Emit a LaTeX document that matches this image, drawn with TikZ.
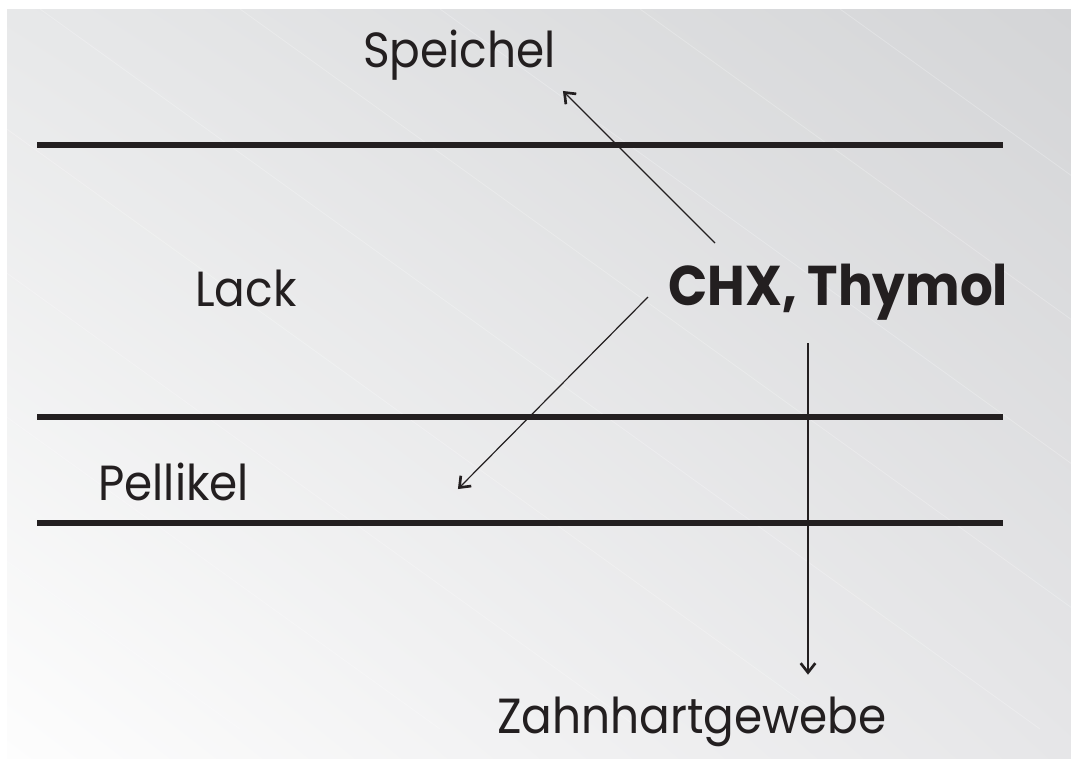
\documentclass[tikz,border=0pt]{standalone}
\usepackage{fontspec}
\setmainfont{Poppins}
\newfontfamily\regfont{Poppins}[FakeStretch=0.92]
\usetikzlibrary{arrows.meta,shadings}
\definecolor{ink}{HTML}{231F20}
\definecolor{bgUL}{HTML}{E7E8E9}
\definecolor{bgUR}{HTML}{D4D5D7}
\definecolor{bgLL}{HTML}{FDFDFD}
\definecolor{bgLR}{HTML}{E6E6E8}
\tikzset{
  layer/.style={draw=ink, line width=3.9pt},
  flow/.style={draw=ink, line width=0.9pt, -{Straight Barb[length=7pt, width=11pt, line width=2pt]}, shorten >=1pt},
  lbl/.style={inner sep=0pt, anchor=base west, text=ink, font=\regfont\fontsize{37}{42}\selectfont},
  boldlbl/.style={inner sep=0pt, anchor=base west, text=ink, font=\regfont\bfseries\fontsize{42}{47}\selectfont},
}
\begin{document}
\begin{tikzpicture}[x=0.75pt, y=-0.75pt]
\useasboundingbox (0,0) rectangle (1071,758);
\fill[white] (0,0) rectangle (1071,758);
\shade[upper left=bgUL, upper right=bgUR, lower left=bgLL, lower right=bgLR] (7,9) rectangle (1071,758);
% faint diagonal stripes
\begin{scope}
\clip (7,9) rectangle (1071,758);
\foreach \o in {-760,-560,-360,-160,40,240,440,640,840} {
  \draw[white, opacity=0.25, line width=0.6pt] (\o,9) -- ++(1000,720);
}
\end{scope}
% layer boundaries
\coordinate (l1a) at (37,145); \coordinate (l1b) at (1003,145);
\coordinate (l2a) at (37,417); \coordinate (l2b) at (1003,417);
\coordinate (l3a) at (37,523); \coordinate (l3b) at (1003,523);
\draw[layer] (l1a) -- (l1b);
\draw[layer] (l2a) -- (l2b);
\draw[layer] (l3a) -- (l3b);
% labels
\node[lbl] (speichel) at (363,67) {Speichel};
\node[lbl] (lack) at (195,306) {Lack};
\node[lbl] (pellikel) at (98,500) {Pellikel};
\node[lbl] (zahn) at (497,733) {Zahnhartgewebe};
\node[boldlbl] (chx) at (668,305) {CHX, Thymol};
% arrow endpoints
\coordinate (s1) at (715,243); \coordinate (e1) at (562,90);
\coordinate (s2) at (648,297); \coordinate (e2) at (457,490);
\coordinate (s3) at (808,343); \coordinate (e3) at (808,676);
\draw[flow] (s1) -- (e1);
\draw[flow] (s2) -- (e2);
\draw[flow] (s3) -- (e3);
\end{tikzpicture}
\end{document}
